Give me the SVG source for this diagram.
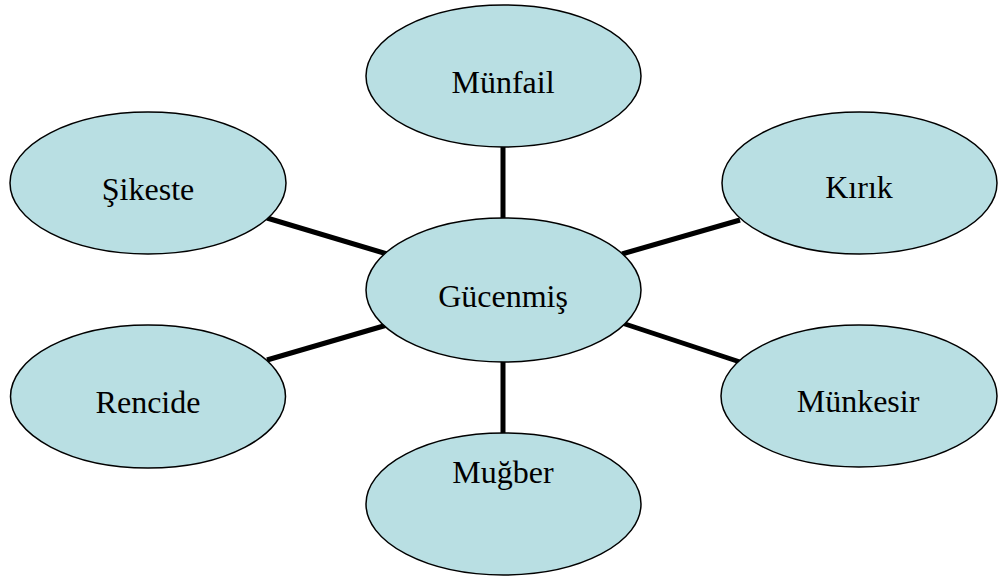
<svg xmlns="http://www.w3.org/2000/svg" width="1000" height="577" viewBox="0 0 1000 577">
<style>
.n{fill:#B9DFE3;stroke:#000;stroke-width:1.5}
.t{font-family:"Liberation Serif","Times New Roman",serif;font-size:32px;fill:#000;text-anchor:middle}
.c{stroke:#000;stroke-width:5;fill:none}
</style>
<rect width="1000" height="577" fill="#fff"/>
<g id="connectors">
<line class="c" x1="503" y1="147" x2="503" y2="219"/>
<line class="c" x1="267" y1="218" x2="387" y2="254"/>
<line class="c" x1="740" y1="220" x2="622" y2="254"/>
<line class="c" x1="267" y1="360" x2="387" y2="325"/>
<line class="c" x1="622" y1="323" x2="740" y2="362"/>
<line class="c" x1="503" y1="361" x2="503" y2="434"/>
</g>
<g id="gucenmis"><ellipse class="n" cx="503.5" cy="290" rx="137.5" ry="72"/><text class="t" x="503" y="307">Gücenmiş</text></g>
<g id="munfail"><ellipse class="n" cx="503.5" cy="76" rx="137.5" ry="71"/><text class="t" x="503" y="93">Münfail</text></g>
<g id="sikeste"><ellipse class="n" cx="148" cy="183" rx="138" ry="71"/><text class="t" x="148" y="200">Şikeste</text></g>
<g id="kirik"><ellipse class="n" cx="859.5" cy="183" rx="137.5" ry="71"/><text class="t" x="859" y="198">Kırık</text></g>
<g id="rencide"><ellipse class="n" cx="148" cy="396.5" rx="137.5" ry="71.5"/><text class="t" x="148" y="413">Rencide</text></g>
<g id="munkesir"><ellipse class="n" cx="859" cy="396" rx="138" ry="71"/><text class="t" x="858" y="412">Münkesir</text></g>
<g id="mugber"><ellipse class="n" cx="503.5" cy="504" rx="137.5" ry="71"/><text class="t" x="503" y="483">Muğber</text></g>
</svg>
